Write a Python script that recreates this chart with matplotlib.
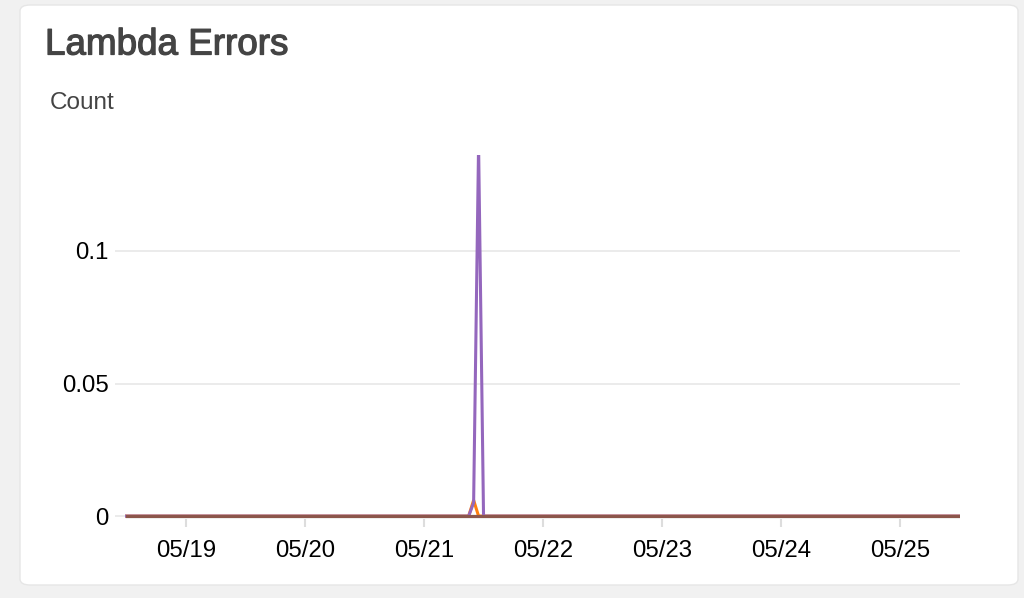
import matplotlib
matplotlib.use("Agg")
import matplotlib.pyplot as plt
import matplotlib.dates as mdates
import matplotlib.patheffects as pe
from matplotlib.patches import FancyBboxPatch
import pandas as pd

# hourly samples, 05/18 12:00 -> 05/25 12:00
start = "2018-05-18 12:00"
end = "2018-05-25 12:00"
times = pd.date_range(start, end, freq="1h")

# non-zero points, everything else is 0
orange_spikes = {"2018-05-21 10:00": 0.006}
purple_spikes = {"2018-05-21 10:00": 0.005, "2018-05-21 11:00": 0.14}

series_colors = ["#1f77b4", "#ff7f0e", "#2ca02c", "#d62728", "#9467bd", "#8c564b"]
series_spikes = [{}, orange_spikes, {}, {}, purple_spikes, {}]

yticks = [0, 0.05, 0.1]
ytick_labels = ["0", "0.05", "0.1"]

plt.rcParams['font.family'] = ['Liberation Sans', 'DejaVu Sans']

fig = plt.figure(figsize=(10.24, 5.98), dpi=100)
fig.patch.set_facecolor("#f1f1f1")

# white card behind the chart
card = FancyBboxPatch((20 / 1024, 1 - 585 / 598), 998 / 1024, 580 / 598,
                      boxstyle="round,pad=0,rounding_size=0.01",
                      transform=fig.transFigure, facecolor="white",
                      edgecolor="#e6e6e6", linewidth=1, zorder=-5)
fig.patches.append(card)

# medium-ish weight for the title via a thin stroke
fig.text(45 / 1024, 1 - 45 / 598, "Lambda Errors", fontsize=26.5, color="#444444",
         ha="left", va="center",
         path_effects=[pe.withStroke(linewidth=0.9, foreground="#444444")])
fig.text(50 / 1024, 1 - 103 / 598, "Count", fontsize=17.5, color="#444444",
         ha="left", va="center")

ax = fig.add_axes([115 / 1024, 1 - 519 / 598, 845 / 1024, 364 / 598])
ax.set_facecolor("none")

for color, spikes in zip(series_colors, series_spikes):
    vals = pd.Series(0.0, index=times)
    for t, v in spikes.items():
        vals[pd.Timestamp(t)] = v
    ax.plot(vals.index, vals.values, color=color, linewidth=2.2,
            solid_joinstyle="miter")

t0 = pd.Timestamp("2018-05-21")
ax.set_xlim(t0 - pd.Timedelta(days=2.597), t0 + pd.Timedelta(days=4.504))
ax.set_ylim(-0.0011, 0.1362)

ax.set_yticks(yticks)
ax.set_yticklabels(ytick_labels)
ax.grid(axis="y", color="#e9e9e9", linewidth=1.3)
ax.set_axisbelow(True)

ax.xaxis.set_major_locator(mdates.DayLocator())
ax.xaxis.set_major_formatter(mdates.DateFormatter("%m/%d"))

for s in ax.spines.values():
    s.set_visible(False)

ax.tick_params(axis="y", length=0, pad=4.5, labelsize=17.3, labelcolor="black")
ax.tick_params(axis="x", length=6, width=1.5, color="#dddddd", pad=9,
               labelsize=17.3, labelcolor="black")

fig.savefig("out.png", dpi=100, facecolor=fig.get_facecolor())
